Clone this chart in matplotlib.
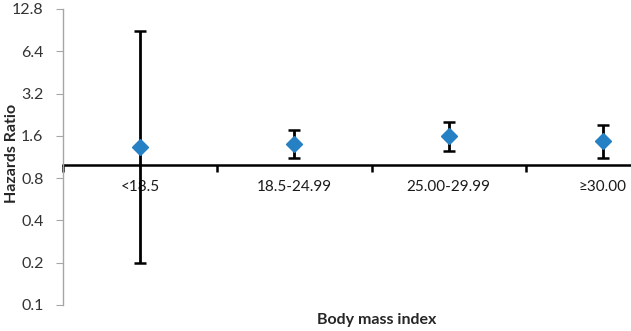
import matplotlib
matplotlib.use("Agg")
import matplotlib.pyplot as plt
import numpy as np

categories = ["<18.5", "18.5-24.99", "25.00-29.99", "≥30.00"]
hr = [1.33, 1.41, 1.60, 1.46]
ci_low = [0.20, 1.12, 1.25, 1.11]
ci_high = [8.9, 1.76, 2.02, 1.91]
yticks = [0.1, 0.2, 0.4, 0.8, 1.6, 3.2, 6.4, 12.8]

plt.rcParams['font.family'] = ['Lato', 'DejaVu Sans']

W, H = 631, 331
fig = plt.figure(figsize=(W/100, H/100), dpi=100)
left, right, top, bottom = 63, 680, 9, 305
ax = fig.add_axes([left/W, 1-bottom/H, (right-left)/W, (bottom-top)/H])

x = np.arange(len(categories))
hr_a = np.array(hr)
yerr = [hr_a - np.array(ci_low), np.array(ci_high) - hr_a]
ax.errorbar(x, hr, yerr=yerr, fmt='none', ecolor='black', elinewidth=2, capsize=4, capthick=1.8, zorder=2)
ax.plot(x, hr, linestyle='none', marker='D', markersize=8.5, color='#2581C4', zorder=3)

ax.set_yscale('log', base=2)
ax.set_ylim(0.1, 12.8)
ax.set_yticks(yticks)
ax.set_yticklabels([f"{v:g}" for v in yticks])
ax.yaxis.set_minor_locator(matplotlib.ticker.NullLocator())
ax.tick_params(axis='y', which='major', length=5, color='#A6A6A6', labelsize=11.5, labelcolor='#333333', pad=9)

ax.set_xlim(-0.5, len(categories) - 0.5)
ax.spines['top'].set_visible(False)
ax.spines['right'].set_visible(False)
ax.spines['left'].set_color('#A6A6A6')
ax.spines['left'].set_linewidth(1)
ax.spines['bottom'].set_position(('data', 1))
ax.spines['bottom'].set_linewidth(1.8)
ax.spines['bottom'].set_color('black')
ax.spines['bottom'].set_zorder(1)

ax.set_xticks(np.arange(-0.5, len(categories), 1.0))
ax.set_xticklabels([])
ax.set_xticks(x, minor=True)
ax.set_xticklabels(categories, minor=True)
ax.tick_params(axis='x', which='major', length=5, width=1.8, color='black', direction='out')
ax.tick_params(axis='x', which='minor', length=0, labelsize=11, labelcolor='#1a1a1a', pad=11)

fig.text(377/W, 1-320/H, "Body mass index", ha='center', va='center', fontsize=11.5, fontweight='bold', color='#262626')
fig.text(12/W, 1-153/H, "Hazards Ratio", ha='center', va='center', rotation=90, fontsize=11.5, fontweight='bold', color='#262626')

fig.savefig("out.png", dpi=100)
